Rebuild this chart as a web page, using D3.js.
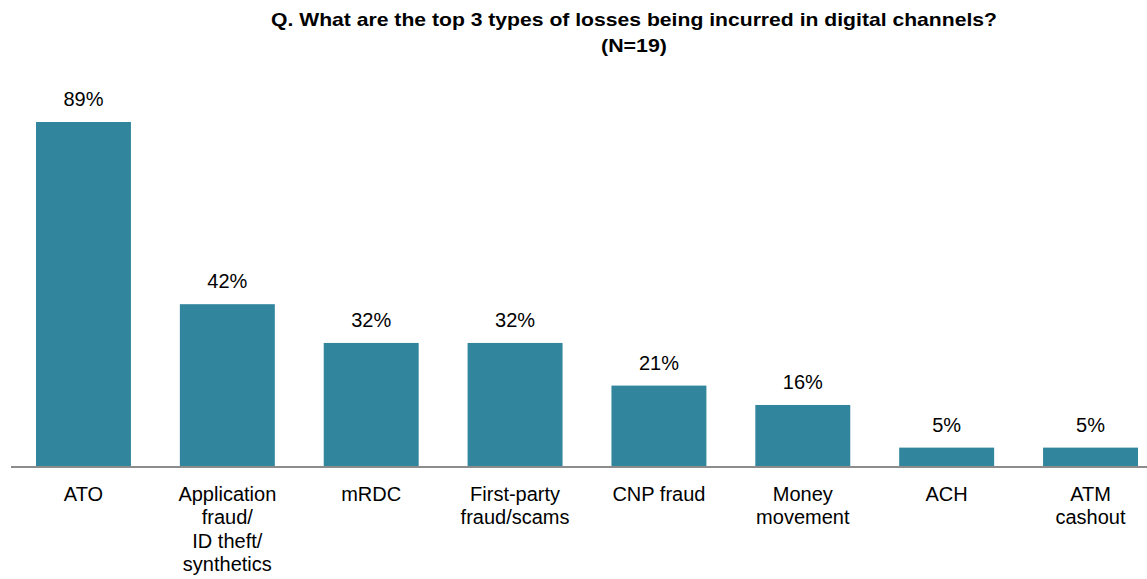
<!DOCTYPE html>
<html>
<head>
<meta charset="utf-8">
<script src="https://cdn.jsdelivr.net/npm/d3@7"></script>
<style>
  html, body { margin: 0; padding: 0; background: #fff; }
  svg { display: block; }
  text { font-family: Arial, "Liberation Sans", sans-serif; fill: #000; }
</style>
</head>
<body>
<script>
// Survey results: top loss types in digital channels
const categories = ["ATO", "Application fraud/ ID theft/ synthetics", "mRDC", "First-party fraud/scams", "CNP fraud", "Money movement", "ACH", "ATM cashout"];
const categoryLines = [["ATO"], ["Application", "fraud/", "ID theft/", "synthetics"], ["mRDC"], ["First-party", "fraud/scams"], ["CNP fraud"], ["Money", "movement"], ["ACH"], ["ATM", "cashout"]];
const values = [89, 42, 32, 32, 21, 16, 5, 5];
const titleLines = ["Q. What are the top 3 types of losses being incurred in digital channels?", "(N=19)"];

const W = 1147, H = 579;
const baseline = 467;

const svg = d3.select("body").append("svg").attr("width", W).attr("height", H);

const x = d3.scaleBand().domain(categories).range([36, 1138]).paddingInner(0.34).paddingOuter(0);
const y = d3.scaleLinear().domain([0, 89]).range([baseline, 122]);

// Title
svg.append("g").selectAll("text").data(titleLines).join("text")
  .attr("x", 634).attr("y", (d, i) => 26 + i * 26)
  .attr("text-anchor", "middle")
  .style("font-weight", "bold").style("font-size", "19px")
  .attr("textLength", (d, i) => i === 0 ? 726 : 66)
  .attr("lengthAdjust", "spacingAndGlyphs")
  .text(d => d);

// Bars
svg.append("g").selectAll("rect").data(values).join("rect")
  .attr("x", (d, i) => x(categories[i]))
  .attr("width", x.bandwidth())
  .attr("y", d => y(d))
  .attr("height", d => baseline - y(d))
  .attr("fill", "#31859c");

// Value labels
svg.append("g").selectAll("text").data(values).join("text")
  .attr("x", (d, i) => x(categories[i]) + x.bandwidth() / 2)
  .attr("y", d => y(d) - 16)
  .attr("text-anchor", "middle")
  .style("font-size", "20px")
  .text(d => d + "%");

// Baseline axis
const axis = d3.axisBottom(x).tickSize(0).tickFormat("");
const ax = svg.append("g").attr("transform", `translate(0,${baseline})`).call(axis);
ax.select(".domain").remove();
svg.append("line").attr("x1", 11).attr("x2", W).attr("y1", baseline).attr("y2", baseline)
  .attr("stroke", "#8c8c8c").attr("stroke-width", 2);

// Category labels
const cat = svg.append("g").selectAll("text").data(categories).join("text")
  .attr("x", d => x(d) + x.bandwidth() / 2)
  .attr("y", 501)
  .attr("text-anchor", "middle")
  .style("font-size", "20px");
cat.each(function(d, i) {
  d3.select(this).selectAll("tspan").data(categoryLines[i]).join("tspan")
    .attr("x", x(d) + x.bandwidth() / 2)
    .attr("dy", (t, j) => j === 0 ? 0 : 23.3)
    .text(t => t);
});
</script>
</body>
</html>
